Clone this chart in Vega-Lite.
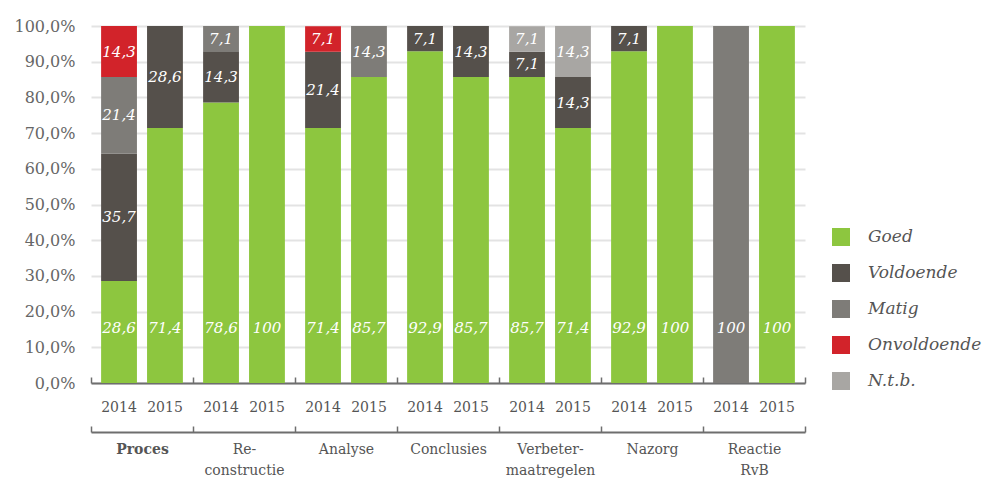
{
  "$schema": "https://vega.github.io/schema/vega-lite/v6.json",
  "autosize": {"type": "none"},
  "width": 714,
  "height": 357,
  "padding": {"left": 91, "top": 26, "right": 186, "bottom": 95},
  "config": {
    "view": {"stroke": null},
    "locale": {"number": {"decimal": ",", "thousands": ".", "grouping": [3], "currency": ["€", ""]}},
    "axisY": {
      "title": null, "values": [0, 10, 20, 30, 40, 50, 60, 70, 80, 90, 100],
      "format": ".1f", "labelExpr": "datum.label + '%'",
      "domain": false, "ticks": false, "labelPadding": 16,
      "grid": true, "gridColor": "#e3e3e3", "gridWidth": 2,
      "labelFont": "DejaVu Serif", "labelFontSize": 16, "labelColor": "#666666"
    }
  },
  "data": {
    "values": [
      {"group": "Proces", "year": "2014", "cat": "Goed", "value": 28.6},
      {"group": "Proces", "year": "2014", "cat": "Voldoende", "value": 35.7},
      {"group": "Proces", "year": "2014", "cat": "Matig", "value": 21.4},
      {"group": "Proces", "year": "2014", "cat": "Onvoldoende", "value": 14.3},
      {"group": "Proces", "year": "2015", "cat": "Goed", "value": 71.4},
      {"group": "Proces", "year": "2015", "cat": "Voldoende", "value": 28.6},
      {"group": "Reconstructie", "year": "2014", "cat": "Goed", "value": 78.6},
      {"group": "Reconstructie", "year": "2014", "cat": "Voldoende", "value": 14.3},
      {"group": "Reconstructie", "year": "2014", "cat": "Matig", "value": 7.1},
      {"group": "Reconstructie", "year": "2015", "cat": "Goed", "value": 100},
      {"group": "Analyse", "year": "2014", "cat": "Goed", "value": 71.4},
      {"group": "Analyse", "year": "2014", "cat": "Voldoende", "value": 21.4},
      {"group": "Analyse", "year": "2014", "cat": "Onvoldoende", "value": 7.1},
      {"group": "Analyse", "year": "2015", "cat": "Goed", "value": 85.7},
      {"group": "Analyse", "year": "2015", "cat": "Matig", "value": 14.3},
      {"group": "Conclusies", "year": "2014", "cat": "Goed", "value": 92.9},
      {"group": "Conclusies", "year": "2014", "cat": "Voldoende", "value": 7.1},
      {"group": "Conclusies", "year": "2015", "cat": "Goed", "value": 85.7},
      {"group": "Conclusies", "year": "2015", "cat": "Voldoende", "value": 14.3},
      {"group": "Verbetermaatregelen", "year": "2014", "cat": "Goed", "value": 85.7},
      {"group": "Verbetermaatregelen", "year": "2014", "cat": "Voldoende", "value": 7.1},
      {"group": "Verbetermaatregelen", "year": "2014", "cat": "N.t.b.", "value": 7.1},
      {"group": "Verbetermaatregelen", "year": "2015", "cat": "Goed", "value": 71.4},
      {"group": "Verbetermaatregelen", "year": "2015", "cat": "Voldoende", "value": 14.3},
      {"group": "Verbetermaatregelen", "year": "2015", "cat": "N.t.b.", "value": 14.3},
      {"group": "Nazorg", "year": "2014", "cat": "Goed", "value": 92.9},
      {"group": "Nazorg", "year": "2014", "cat": "Voldoende", "value": 7.1},
      {"group": "Nazorg", "year": "2015", "cat": "Goed", "value": 100},
      {"group": "Reactie RvB", "year": "2014", "cat": "Matig", "value": 100},
      {"group": "Reactie RvB", "year": "2015", "cat": "Goed", "value": 100}
    ]
  },
  "transform": [
    {"calculate": "indexof(['Goed','Voldoende','Matig','Onvoldoende','N.t.b.'], datum.cat)", "as": "rank"},
    {"stack": "value", "groupby": ["group", "year"], "sort": [{"field": "rank", "order": "ascending"}], "as": ["v0", "v1"]},
    {"calculate": "datum.v0 == 0 ? 15.4 : (datum.v0 + datum.v1) / 2", "as": "mid"}
  ],
  "resolve": {"axis": {"x": "independent"}},
  "layer": [
    {
      "mark": {"type": "bar"},
      "encoding": {
        "x": {
          "field": "group", "type": "nominal",
          "sort": ["Proces", "Reconstructie", "Analyse", "Conclusies", "Verbetermaatregelen", "Nazorg", "Reactie RvB"],
          "scale": {"paddingInner": 0, "paddingOuter": 0},
          "axis": {
            "orient": "bottom", "title": null, "labels": false, "grid": false,
            "domain": true, "domainColor": "#6e6e6e", "domainWidth": 2,
            "ticks": true, "tickBand": "extent", "tickSize": -6, "tickColor": "#6e6e6e", "tickWidth": 1.5
          }
        },
        "xOffset": {"field": "year", "type": "nominal", "scale": {"paddingInner": 0.22, "paddingOuter": 0.22}},
        "y": {
          "field": "v1", "type": "quantitative",
          "scale": {"domain": [0, 100], "nice": false},
          "axis": {"title": null}
        },
        "y2": {"field": "v0"},
        "color": {
          "field": "cat", "type": "nominal",
          "scale": {
            "domain": ["Goed", "Voldoende", "Matig", "Onvoldoende", "N.t.b."],
            "range": ["#8dc63f", "#55504b", "#7e7c78", "#d2232a", "#a8a6a3"]
          },
          "legend": {
            "orient": "none", "legendX": 741, "legendY": 202, "title": null,
            "symbolType": "square", "symbolSize": 324, "symbolStrokeWidth": 0,
            "labelFont": "DejaVu Serif", "labelFontStyle": "italic", "labelFontSize": 17,
            "labelColor": "#555555", "labelOffset": 18, "rowPadding": 18
          }
        }
      }
    },
    {
      "mark": {"type": "text", "font": "DejaVu Serif", "fontStyle": "italic", "fontSize": 15, "color": "#ffffff", "align": "center", "baseline": "middle"},
      "encoding": {
        "x": {"field": "group", "type": "nominal", "sort": ["Proces", "Reconstructie", "Analyse", "Conclusies", "Verbetermaatregelen", "Nazorg", "Reactie RvB"], "axis": null},
        "xOffset": {"field": "year", "type": "nominal"},
        "y": {"field": "mid", "type": "quantitative", "scale": {"domain": [0, 100], "nice": false}, "axis": {"title": null}},
        "text": {"field": "value", "type": "quantitative", "format": ".1~f"}
      }
    },
    {
      "transform": [{"aggregate": [{"op": "count", "as": "n"}], "groupby": ["group", "year"]}],
      "mark": {"type": "text", "font": "DejaVu Serif", "fontSize": 14, "color": "#555555", "align": "center", "baseline": "middle"},
      "encoding": {
        "x": {
          "field": "group", "type": "nominal",
          "sort": ["Proces", "Reconstructie", "Analyse", "Conclusies", "Verbetermaatregelen", "Nazorg", "Reactie RvB"],
          "axis": {
            "orient": "bottom", "offset": 49, "title": null, "grid": false,
            "domain": true, "domainColor": "#6e6e6e", "domainWidth": 2,
            "ticks": true, "tickBand": "extent", "tickSize": -6, "tickColor": "#6e6e6e", "tickWidth": 1.5,
            "labelPadding": 16, "labelFont": "DejaVu Serif", "labelFontSize": 14, "labelColor": "#555555",
            "labelLineHeight": 21, "labelAngle": 0,
            "labelFontWeight": {"condition": {"test": "datum.value == 'Proces'", "value": "bold"}, "value": "normal"},
            "labelExpr": "datum.value == 'Reconstructie' ? ['Re-', 'constructie'] : datum.value == 'Verbetermaatregelen' ? ['Verbeter-', 'maatregelen'] : datum.value == 'Reactie RvB' ? ['Reactie', 'RvB'] : datum.value"
          }
        },
        "xOffset": {"field": "year", "type": "nominal"},
        "y": {"datum": -7, "scale": {"domain": [0, 100], "nice": false}, "axis": {"title": null}},
        "text": {"field": "year", "type": "nominal"}
      }
    }
  ]
}
